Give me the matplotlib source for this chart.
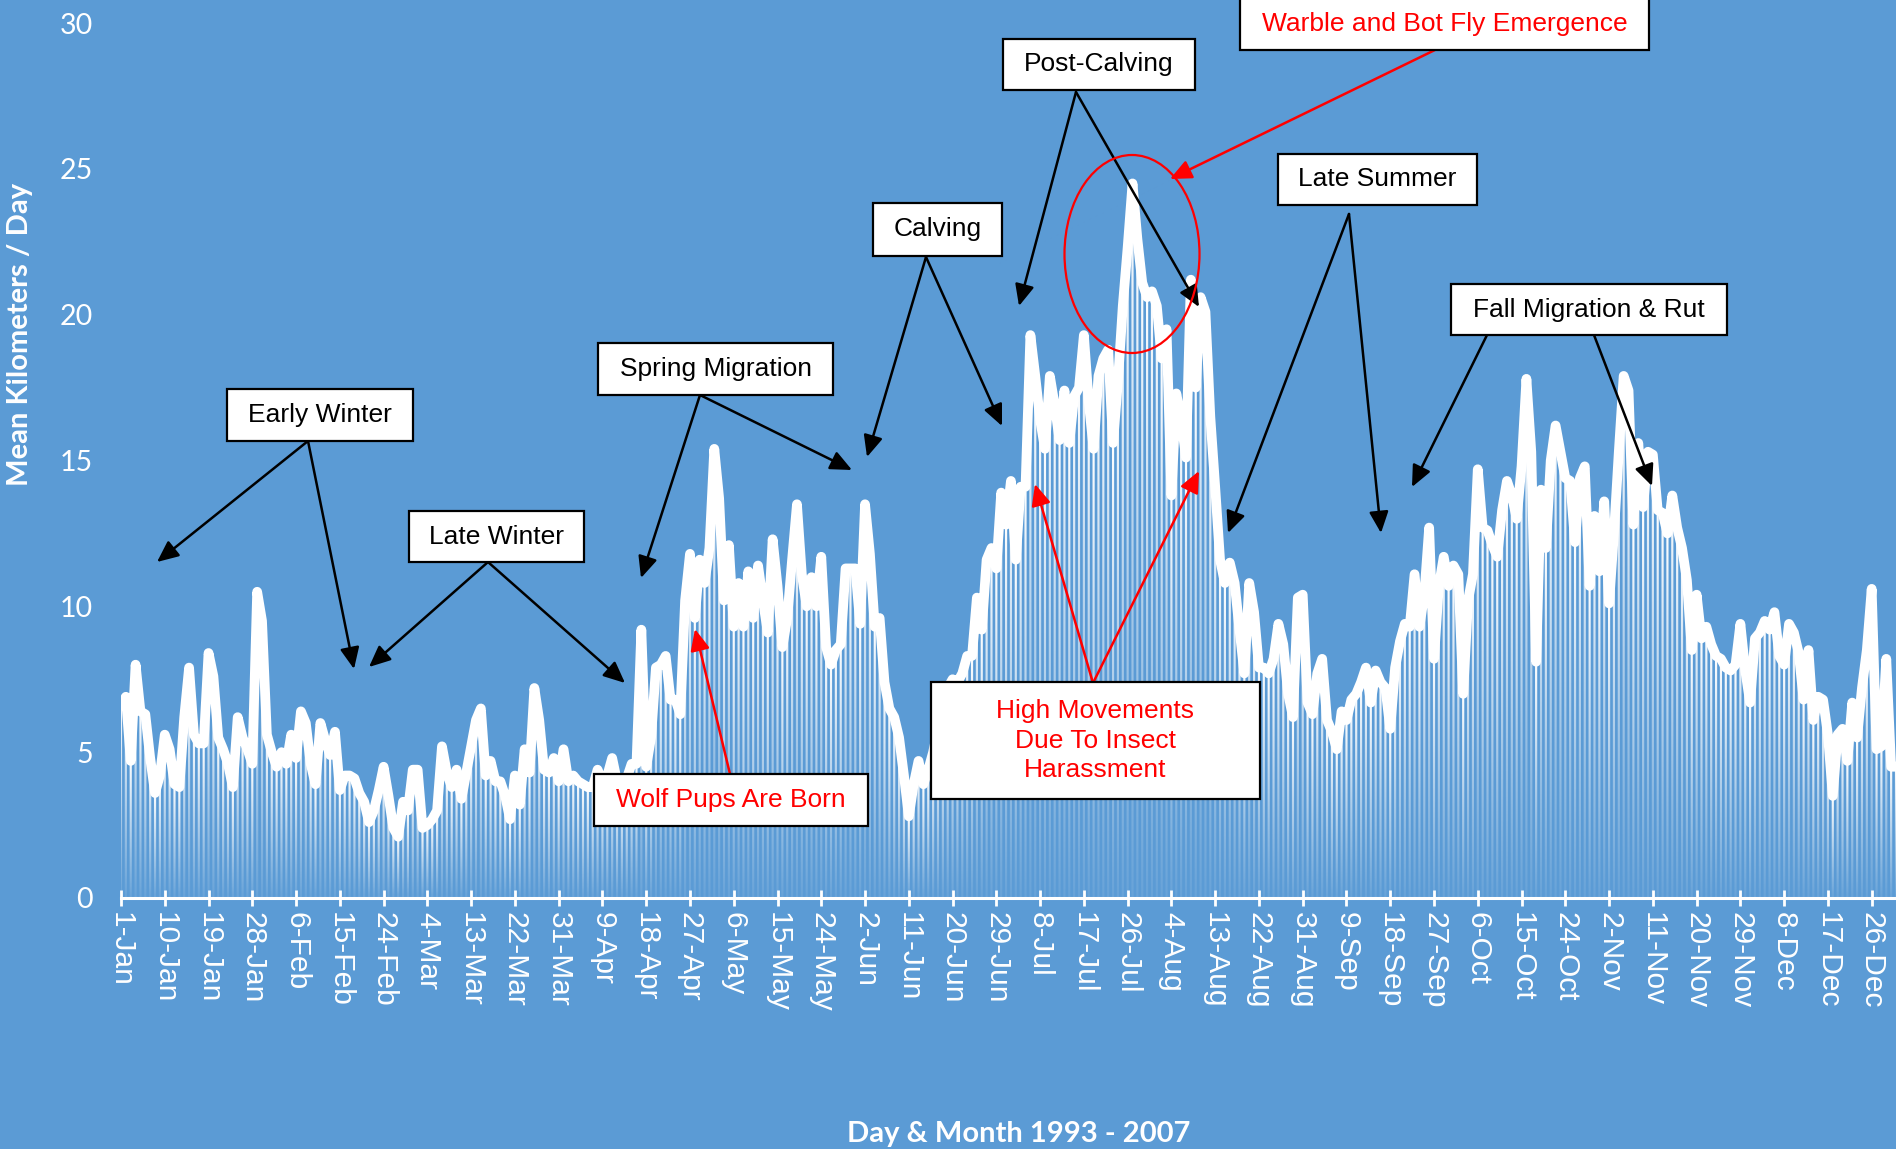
import numpy as np
import matplotlib
matplotlib.use("Agg")
import matplotlib.pyplot as plt
from matplotlib.patches import Rectangle, Ellipse, FancyArrowPatch
from matplotlib.path import Path

# mean km/day for every calendar day (leap-year calendar, 366 days)
jan = [6.6, 6.9, 4.7, 8.0, 6.4, 6.3, 4.8, 3.6, 4.2, 5.6, 5.1, 3.9, 3.8, 6.2, 7.9, 5.6,
       5.3, 5.3, 8.4, 7.6, 5.5, 5.1, 4.6, 3.8, 6.2, 5.5, 5.1, 4.6, 10.5, 9.5, 5.6]
feb = [5.0, 4.5, 5.0, 4.6, 5.6, 4.8, 6.4, 6.0, 4.6, 3.9, 6.0, 5.4, 4.9, 5.7, 3.7,
       4.2, 4.2, 4.1, 3.6, 3.3, 2.6, 3.0, 3.7, 4.5, 3.5, 2.4, 2.1, 3.3, 3.0]
mar = [4.4, 4.4, 2.4, 2.5, 2.7, 3.0, 5.2, 4.3, 3.8, 4.4, 3.4, 4.3, 5.2, 6.1, 6.5, 4.2,
       4.7, 4.0, 4.0, 3.5, 2.7, 4.2, 3.2, 5.1, 4.3, 7.2, 6.1, 4.4, 4.3, 4.8, 4.0]
apr = [5.1, 4.0, 4.2, 4.0, 3.9, 3.8, 3.8, 4.4, 4.0, 4.2, 4.8, 4.0, 3.9, 4.1, 4.6,
       4.6, 9.2, 4.5, 5.5, 7.9, 8.0, 8.3, 6.8, 6.8, 6.3, 10.2, 11.8, 9.6, 11.6, 10.8]
may = [12.0, 15.4, 13.7, 10.2, 12.1, 9.3, 10.8, 9.3, 11.2, 9.6, 11.4, 10.2, 9.1, 12.3,
       10.7, 8.6, 9.6, 11.6, 13.5, 11.1, 10.0, 11.0, 10.0, 11.7, 8.6, 8.0, 8.5, 8.7,
       11.3, 11.3, 11.3]
jun = [9.4, 13.5, 11.8, 9.3, 9.6, 7.4, 6.5, 6.2, 5.5, 4.2, 2.8, 3.9, 4.7, 3.9, 4.4,
       5.0, 5.8, 6.5, 7.2, 7.5, 7.4, 7.7, 8.3, 8.3, 10.3, 9.2, 11.6, 12.0, 11.3, 13.9]
jul = [12.8, 14.3, 11.6, 14.1, 14.1, 19.3, 17.9, 16.4, 15.4, 17.9, 16.9, 15.7, 17.4,
       15.6, 17.2, 17.5, 19.3, 17.0, 15.4, 17.9, 18.5, 18.8, 15.6, 17.7, 20.3, 22.3,
       24.5, 22.6, 21.1, 20.6, 20.8]
aug = [20.3, 18.5, 19.5, 13.8, 17.3, 16.4, 15.1, 21.2, 17.5, 20.6, 20.1, 16.5, 14.1,
       11.6, 10.8, 11.5, 10.8, 9.2, 7.7, 10.8, 9.8, 7.9, 7.9, 7.7, 8.2, 9.4, 8.7, 7.0,
       6.2, 10.3, 10.4]
sep = [6.7, 6.3, 7.7, 8.2, 6.1, 5.7, 5.1, 6.4, 6.1, 6.8, 7.0, 7.4, 7.9, 6.7, 7.8, 7.4,
       7.2, 5.8, 7.9, 8.8, 9.4, 9.3, 11.1, 9.3, 10.4, 12.7, 8.2, 10.7, 11.7, 10.7]
oct_ = [11.4, 11.1, 7.0, 10.2, 11.1, 14.7, 12.7, 12.6, 12.1, 11.7, 13.3, 14.3, 13.8,
        13.0, 14.8, 17.8, 15.3, 8.1, 14.0, 12.0, 15.0, 16.2, 15.3, 14.4, 14.3, 12.2,
        14.4, 14.8, 10.7, 13.1, 11.2]
nov = [13.6, 10.1, 12.5, 15.3, 17.9, 17.4, 12.8, 15.6, 13.4, 15.3, 15.2, 13.3, 13.2,
       12.5, 13.8, 12.7, 12.0, 10.9, 8.5, 10.4, 8.9, 9.3, 8.7, 8.3, 8.2, 7.9, 7.8, 8.0,
       9.4, 7.8]
dec = [6.7, 8.9, 9.1, 9.5, 9.2, 9.8, 8.3, 8.0, 9.4, 9.1, 8.4, 6.8, 8.5, 6.1, 6.9, 6.8,
       5.6, 3.5, 5.6, 5.8, 4.7, 6.7, 5.5, 7.2, 8.5, 10.6, 5.1, 5.2, 8.2, 4.5, 4.5]

tick_labels = ["1-Jan", "10-Jan", "19-Jan", "28-Jan", "6-Feb", "15-Feb", "24-Feb",
               "4-Mar", "13-Mar", "22-Mar", "31-Mar", "9-Apr", "18-Apr", "27-Apr",
               "6-May", "15-May", "24-May", "2-Jun", "11-Jun", "20-Jun", "29-Jun",
               "8-Jul", "17-Jul", "26-Jul", "4-Aug", "13-Aug", "22-Aug", "31-Aug",
               "9-Sep", "18-Sep", "27-Sep", "6-Oct", "15-Oct", "24-Oct", "2-Nov",
               "11-Nov", "20-Nov", "29-Nov", "8-Dec", "17-Dec", "26-Dec"]

vals = np.array(jan + feb + mar + apr + may + jun + jul + aug + sep + oct_ + nov + dec)
days = np.arange(len(vals))

W, H = 1896, 1149
BG = "#5B9BD5"


def fx(x):
    return x / W


def fy(y):
    return 1 - y / H


fig = plt.figure(figsize=(W / 100, H / 100), dpi=100, facecolor=BG)
ax = fig.add_axes([fx(121), fy(898), fx(1896 - 121), (898 - 23) / H])
ax.set_facecolor(BG)

# bars with a white-to-blue fade, one gradient per bar
bars = ax.bar(days, vals, width=0.45, color="none", linewidth=0)
ygrid = np.linspace(0, 30, 700)
alpha = np.where(ygrid[:, None] <= vals[None, :], 0.08 + 0.92 * ygrid[:, None] / vals[None, :], 0)
rgba = np.ones((len(ygrid), len(vals), 4))
rgba[..., 3] = np.clip(alpha, 0, 1)
im = ax.imshow(rgba, extent=[-0.5, len(vals) - 0.5, 0, 30], origin="lower",
               aspect="auto", interpolation="nearest", zorder=2)
clip = Path.make_compound_path(*[b.get_path().transformed(b.get_patch_transform()) for b in bars])
im.set_clip_path(clip, ax.transData)

ax.plot(days, vals, color="white", lw=7, solid_joinstyle="round",
        solid_capstyle="round", zorder=3)

ax.set_xlim(0, len(vals) - 1)
ax.set_ylim(0, 30)
ax.set_xticks(days[::9])
ax.set_xticklabels(tick_labels, rotation=-90, family="Liberation Sans", fontsize=21.5,
                   color="white", va="top", ha="center")
ax.set_yticks([0, 5, 10, 15, 20, 25, 30])
ax.tick_params(axis="x", direction="inout", length=12, width=2, color="white", pad=4)
ax.tick_params(axis="y", length=0, pad=20, labelcolor="white", labelsize=20.5)
for lab in ax.get_yticklabels():
    lab.set_family("Lato")
for s in ["top", "right", "left"]:
    ax.spines[s].set_visible(False)
ax.spines["bottom"].set_color("white")
ax.spines["bottom"].set_linewidth(2.2)

fig.text(fx(20), fy(334), "Mean Kilometers / Day", rotation=90, color="white",
         family="Lato", weight="bold", fontsize=21, ha="center", va="center")
fig.text(fx(1019), fy(1134), "Day & Month 1993 - 2007", color="white",
         family="Lato", weight="bold", fontsize=21, ha="center", va="center")


def box(x0, y0, x1, y1, text, color="black"):
    fig.add_artist(Rectangle((fx(x0), fy(y1)), fx(x1 - x0), (y1 - y0) / H,
                             transform=fig.transFigure, facecolor="white",
                             edgecolor="black", lw=1.6, zorder=5))
    fig.text(fx((x0 + x1) / 2), fy((y0 + y1) / 2), text, color=color,
             family="Liberation Sans", fontsize=19, ha="center", va="center",
             multialignment="center", linespacing=1.3, zorder=6)


def arrow(x0, y0, x1, y1, color="black"):
    fig.add_artist(FancyArrowPatch((fx(x0), fy(y0)), (fx(x1), fy(y1)),
                                   transform=fig.transFigure,
                                   arrowstyle="-|>,head_length=1.0,head_width=0.45",
                                   mutation_scale=13, color=color, lw=1.8,
                                   shrinkA=0, shrinkB=0, zorder=4))


# annotation boxes and pointers
arrow(308, 441, 157, 562)
arrow(308, 441, 354, 669)
box(227, 389, 413, 441, "Early Winter")

arrow(488, 562, 369, 667)
arrow(488, 562, 625, 683)
box(409, 511, 584, 562, "Late Winter")

arrow(700, 395, 641, 578)
arrow(700, 395, 852, 470)
box(598, 343, 833, 395, "Spring Migration")

arrow(926, 257, 867, 457)
arrow(926, 257, 1002, 426)
box(873, 203, 1002, 256, "Calving")

arrow(1076, 92, 1019, 306)
arrow(1076, 92, 1199, 307)
box(1003, 39, 1195, 90, "Post-Calving")

arrow(1439, 48, 1170, 179, color="red")
box(1240, -3, 1649, 50, "Warble and Bot Fly Emergence", color="red")
fig.add_artist(Ellipse((fx(1132), fy(254)), fx(135), 198 / H, transform=fig.transFigure,
                       fill=False, edgecolor="red", lw=1.6, zorder=4))

arrow(1349, 214, 1228, 533)
arrow(1349, 214, 1381, 533)
box(1278, 154, 1477, 205, "Late Summer")

arrow(1487, 335, 1412, 487)
arrow(1594, 335, 1652, 486)
box(1451, 284, 1727, 335, "Fall Migration & Rut")

arrow(730, 774, 695, 629, color="red")
box(594, 774, 868, 826, "Wolf Pups Are Born", color="red")

arrow(1093, 683, 1035, 484, color="red")
arrow(1093, 683, 1199, 471, color="red")
box(931, 682, 1260, 799, "High Movements\nDue To Insect\nHarassment", color="red")

fig.savefig("out.png", dpi=100, facecolor=BG)
